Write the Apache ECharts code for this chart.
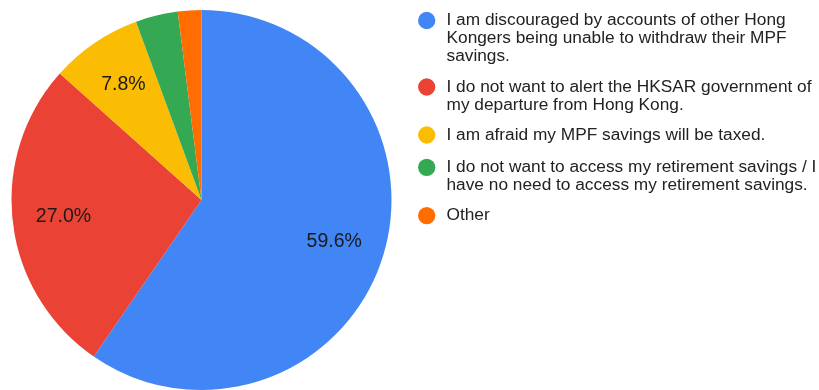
<!DOCTYPE html>
<html>
<head>
<meta charset="utf-8">
<script src="https://cdn.jsdelivr.net/npm/echarts@6/dist/echarts.min.js"></script>
<style>
  html, body { margin: 0; padding: 0; background: #fff; }
  #chart { width: 819px; height: 390px; }
</style>
</head>
<body>
<div id="chart"></div>
<script>
// Reasons given for not withdrawing MPF savings (share of respondents, %)
const categories = [
  'I am discouraged by accounts of other Hong Kongers being unable to withdraw their MPF savings.',
  'I do not want to alert the HKSAR government of my departure from Hong Kong.',
  'I am afraid my MPF savings will be taxed.',
  'I do not want to access my retirement savings / I have no need to access my retirement savings.',
  'Other'
];
const values = [59.6, 27.0, 7.8, 3.6, 2.0];
const colors = ['#4285F4', '#EA4335', '#FBBC04', '#34A853', '#FF6D01'];

const FONT = '"Liberation Sans", Arial, sans-serif';
const LEGEND_FONT = 17.3;
const LH = 18;                                   // legend line height
const legendRowY = [20.5, 87, 135, 167.3, 215.6]; // centre of each entry's first line
const ICON = 17.3;
const ICON_CX = 426.7;
const TEXT_X = 446.5;

const data = categories.map((name, i) => ({
  name: name,
  value: values[i],
  itemStyle: { color: colors[i] }
}));

// Each entry gets a marker legend and a text legend, so the marker
// sits beside the first line of a wrapped label.
const legends = [];
categories.forEach((name, i) => {
  legends.push({
    data: [name],
    left: ICON_CX - ICON / 2,
    top: legendRowY[i] - ICON / 2,
    padding: 0,
    icon: 'circle',
    itemWidth: ICON,
    itemHeight: ICON,
    selectedMode: false,
    formatter: () => '',
    textStyle: { fontSize: 1, lineHeight: 1 }
  });
  legends.push({
    data: [name],
    left: TEXT_X - 5,
    top: legendRowY[i] - LH / 2,
    padding: 0,
    icon: 'circle',
    itemWidth: 0,
    itemHeight: 0,
    itemStyle: { opacity: 0 },
    selectedMode: false,
    textStyle: {
      fontFamily: FONT,
      fontSize: LEGEND_FONT,
      color: '#222',
      lineHeight: LH,
      width: 380,
      overflow: 'break'
    }
  });
});

const center = [201.5, 200];
const R = 190;

const option = {
  animation: false,
  backgroundColor: '#fff',
  legend: legends,
  series: [
    {
      type: 'pie',
      center: center,
      radius: [0, R],
      startAngle: 90,
      clockwise: true,
      silent: true,
      label: { show: false },
      labelLine: { show: false },
      itemStyle: { borderWidth: 0 },
      data: data
    },
    {
      // transparent ring that carries the percentage labels
      type: 'pie',
      center: center,
      radius: [82, R],
      startAngle: 90,
      clockwise: true,
      silent: true,
      legendHoverLink: false,
      itemStyle: { color: 'rgba(0,0,0,0)', borderWidth: 0 },
      label: {
        show: true,
        position: 'inside',
        fontFamily: FONT,
        fontSize: 19.5,
        color: '#1a1a1a',
        formatter: p => p.value >= 5 ? p.value.toFixed(1) + '%' : ''
      },
      labelLine: { show: false },
      data: values.map((v, i) => ({ name: 'label-' + i, value: v }))
    }
  ]
};

const chart = echarts.init(document.getElementById('chart'), null, { renderer: 'canvas' });
chart.setOption(option);
</script>
</body>
</html>
